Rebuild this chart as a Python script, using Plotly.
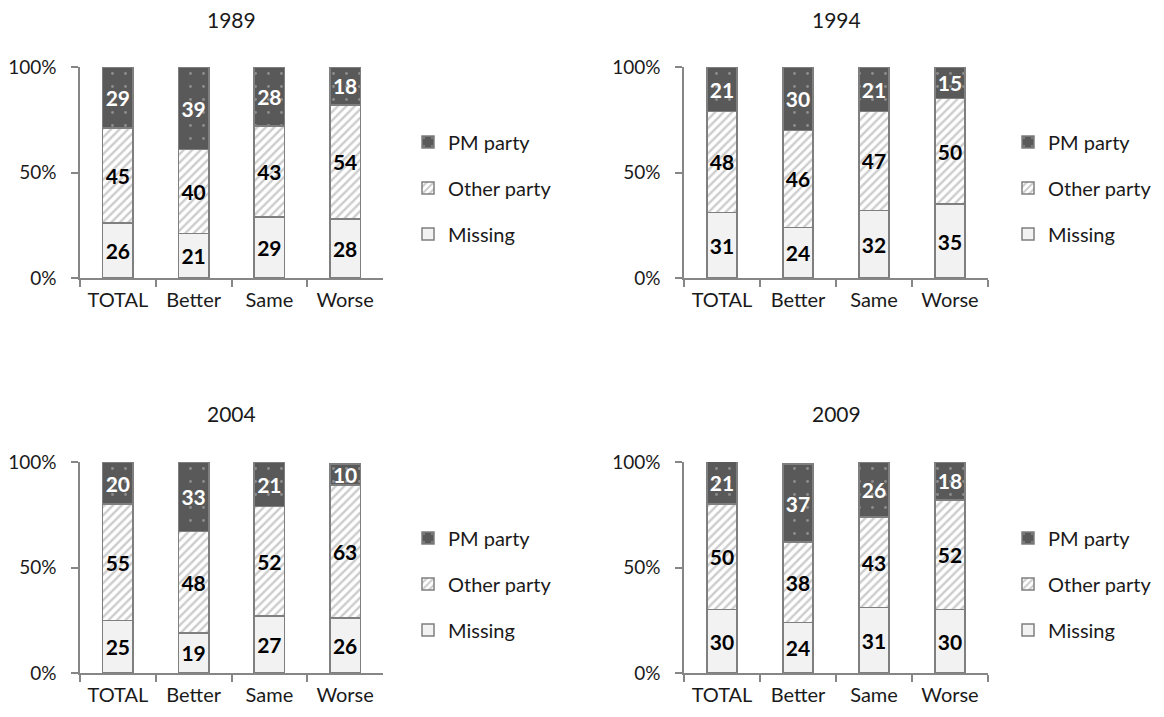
import plotly.graph_objects as go
from plotly.subplots import make_subplots

categories = ["TOTAL", "Better", "Same", "Worse"]
years = ["1989", "1994", "2004", "2009"]

missing = {
    "1989": [26, 21, 29, 28],
    "1994": [31, 24, 32, 35],
    "2004": [25, 19, 27, 26],
    "2009": [30, 24, 31, 30],
}
other_party = {
    "1989": [45, 40, 43, 54],
    "1994": [48, 46, 47, 50],
    "2004": [55, 48, 52, 63],
    "2009": [50, 38, 43, 52],
}
pm_party = {
    "1989": [29, 39, 28, 18],
    "1994": [21, 30, 21, 15],
    "2004": [20, 33, 21, 10],
    "2009": [21, 37, 26, 18],
}

y_tickvals = [0, 50, 100]
y_ticktext = ["0%", "50%", "100%"]

FONT = "Lato"
OFF = 8  # page body margin
W, H = 1164 - OFF, 717 - OFF
BORDER = "#7F7F7F"
AXIS = "#868686"

fig = make_subplots(rows=2, cols=2)

# pixel-based domains (screen coordinates, corrected for page offset)
def px_x(a, b):
    return [(a - OFF) / W, (b - OFF) / W]

def px_y(top, bottom):
    return [(H - (bottom - OFF)) / H, (H - (top - OFF)) / H]

def py(v):
    return (H - (v - OFF)) / H

def pxx(v):
    return (v - OFF) / W

xdoms = [px_x(80, 383), px_x(684, 988)]
ydoms = [px_y(67, 278), px_y(462, 673)]

legend_pos = [
    (pxx(408), py(188)),
    (pxx(1008), py(188)),
    (pxx(408), py(584)),
    (pxx(1008), py(584)),
]

for i, yr in enumerate(years):
    r, c = i // 2 + 1, i % 2 + 1
    lg = "legend" if i == 0 else f"legend{i+1}"
    series = [
        ("PM party", pm_party[yr], dict(color="#595959", line=dict(color=BORDER, width=1.5),
                                         pattern=dict(shape=".", bgcolor="#595959", fgcolor="#BFBFBF",
                                                      size=13, solidity=0.04)), "#FFFFFF"),
        ("Other party", other_party[yr], dict(color="#FFFFFF", line=dict(color=BORDER, width=1.5),
                                               pattern=dict(shape="/", bgcolor="#FFFFFF", fgcolor="#9A9A9A",
                                                            size=6, solidity=0.4)), "#000000"),
        ("Missing", missing[yr], dict(color="#F2F2F2", line=dict(color=BORDER, width=1.5)), "#000000"),
    ]
    # add bottom-up so stacking is Missing, Other party, PM party
    for name, vals, marker, tcol in reversed(series):
        fig.add_trace(
            go.Bar(
                x=categories, y=vals, name=name, marker=marker, width=0.4,
                text=vals, texttemplate="%{text}", textposition="inside",
                insidetextanchor="middle", textangle=0, constraintext="none",
                textfont=dict(family=FONT, size=21, color=tcol, weight="bold"),
                legend=lg, legendgroup=f"{yr}-{name}", showlegend=True,
                legendrank={"PM party": 1, "Other party": 2, "Missing": 3}[name],
                hoverinfo="skip",
            ),
            row=r, col=c,
        )
    lx, ly = legend_pos[i]
    fig.update_layout({
        lg: dict(x=lx, y=ly, xanchor="left", yanchor="middle", traceorder="grouped",
                 tracegroupgap=17, font=dict(family=FONT, size=20, color="#1a1a1a"),
                 bgcolor="rgba(0,0,0,0)", itemclick=False, itemdoubleclick=False)
    })
    xa = "xaxis" if i == 0 else f"xaxis{i+1}"
    ya = "yaxis" if i == 0 else f"yaxis{i+1}"
    fig.update_layout({
        xa: dict(domain=xdoms[c - 1], range=[-0.5, 3.5], showline=True, linecolor=AXIS, linewidth=1.5,
                 ticks="outside", tickson="boundaries", ticklen=7, tickcolor=AXIS, tickwidth=1.5,
                 showgrid=False, zeroline=False, ticklabelstandoff=3,
                 tickfont=dict(family=FONT, size=20, color="#1a1a1a")),
        ya: dict(domain=ydoms[r - 1], range=[0, 100], showline=True, linecolor=AXIS, linewidth=1.5,
                 ticks="outside", ticklen=7, tickcolor=AXIS, tickwidth=1.5,
                 tickvals=y_tickvals, ticktext=y_ticktext, showgrid=False, zeroline=False,
                 ticklabelstandoff=11,
                 tickfont=dict(family=FONT, size=19, color="#1a1a1a")),
    })
    xref = "x domain" if i == 0 else f"x{i+1} domain"
    fig.add_annotation(
        text=yr, xref=xref, x=0.5, yref="paper",
        y=py(20 if r == 1 else 413), yanchor="middle", xanchor="center",
        showarrow=False, font=dict(family=FONT, size=21, color="#1a1a1a"),
    )

fig.update_layout(
    width=W, height=H, barmode="stack",
    margin=dict(l=0, r=0, t=0, b=0, autoexpand=False),
    paper_bgcolor="white", plot_bgcolor="white",
    font=dict(family=FONT),
)

fig.write_html("out.html")
